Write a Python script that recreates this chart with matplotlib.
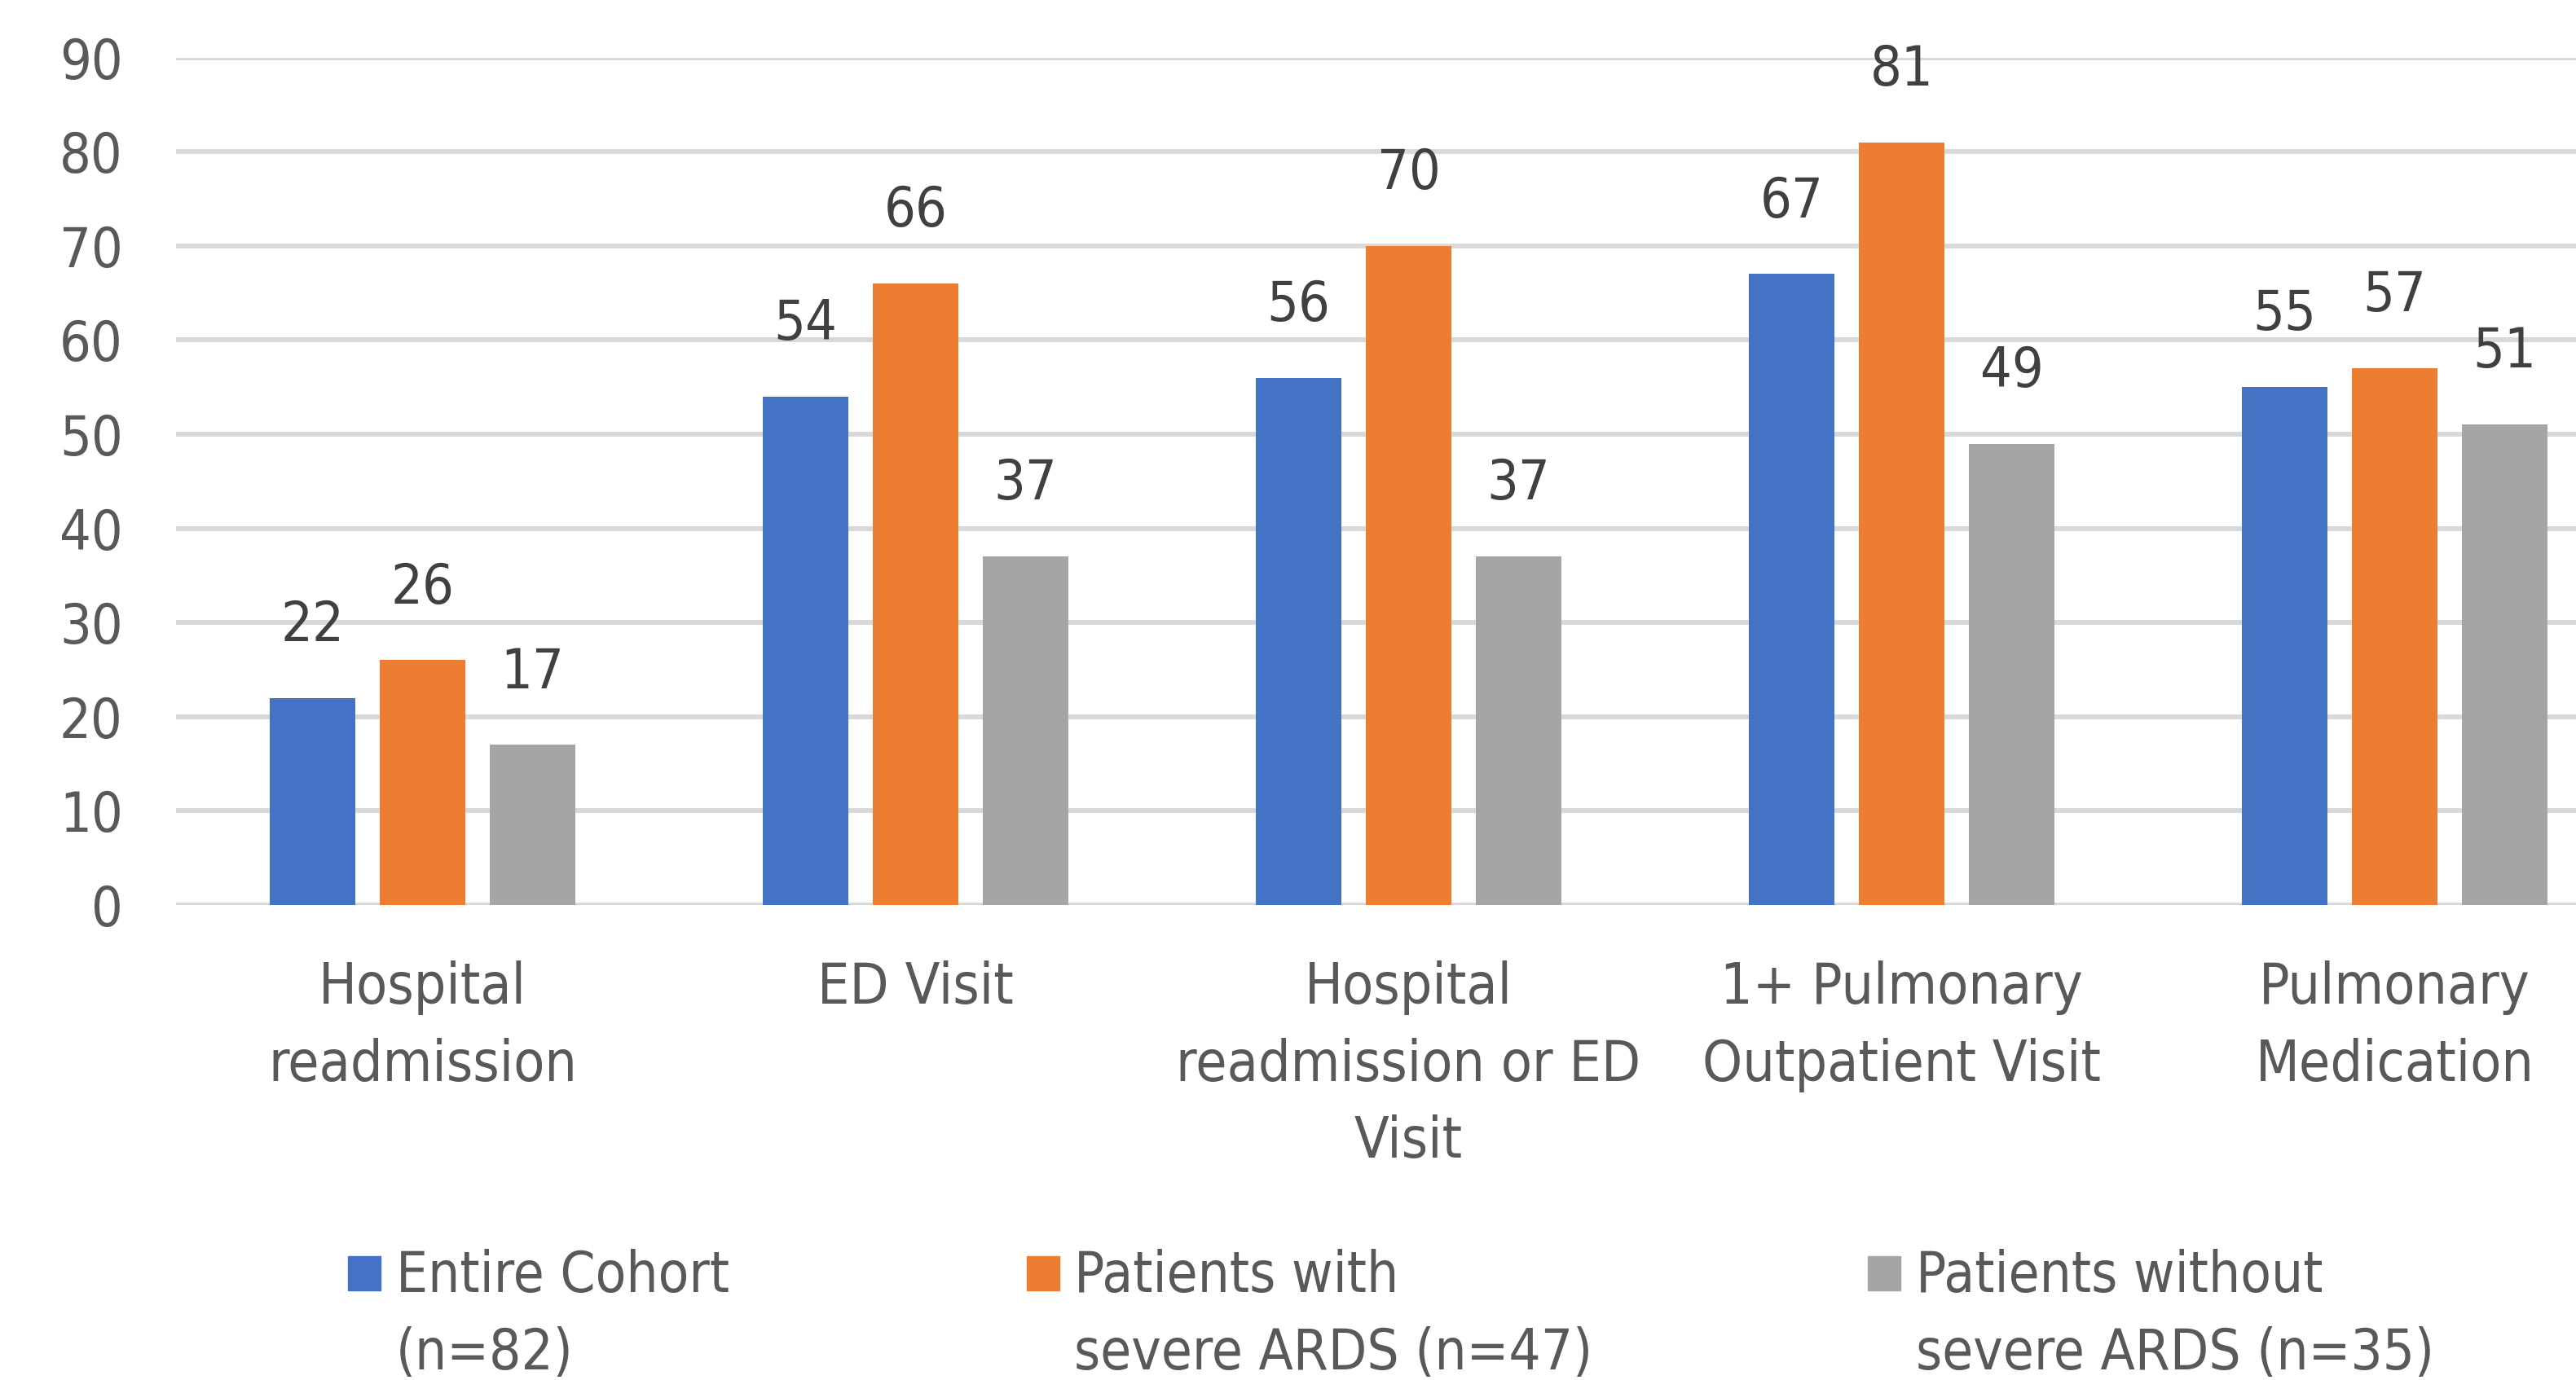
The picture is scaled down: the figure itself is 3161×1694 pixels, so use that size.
import matplotlib
matplotlib.use("Agg")
import matplotlib.pyplot as plt
import numpy as np
from matplotlib.patches import Rectangle

plt.rcParams['font.family'] = ['DejaVu Sans']
plt.rcParams['font.stretch'] = 'condensed'

categories = ["Hospital\nreadmission", "ED Visit", "Hospital\nreadmission or ED\nVisit",
              "1+ Pulmonary\nOutpatient Visit", "Pulmonary\nMedication"]
series_names = ["Entire Cohort\n(n=82)", "Patients with\nsevere ARDS (n=47)",
                "Patients without\nsevere ARDS (n=35)"]
entire_cohort = [22, 54, 56, 67, 55]
severe_ards = [26, 66, 70, 81, 57]
non_severe_ards = [17, 37, 37, 49, 51]
y_ticks = [0, 10, 20, 30, 40, 50, 60, 70, 80, 90]

colors = ["#4472C4", "#ED7D31", "#A5A5A5"]
W, H = 3161, 1694
fig = plt.figure(figsize=(W / 100, H / 100), dpi=100)

# axes deliberately run past the right edge of the canvas
ax_left, ax_right = 216 / W, (216 + 5 * 605) / W
ax_bottom, ax_top = (H - 1111) / H, (H - 70.5) / H
ax = fig.add_axes([ax_left, ax_bottom, ax_right - ax_left, ax_top - ax_bottom])

x = np.arange(len(categories))
offsets = [-0.223, 0.0, 0.223]
bar_w = 0.173
all_series = [entire_cohort, severe_ards, non_severe_ards]
for vals, off, c in zip(all_series, offsets, colors):
    bars = ax.bar(x + off, vals, width=bar_w, color=c, zorder=3)
    for b, v in zip(bars, vals):
        ax.annotate(f"{v}", (b.get_x() + b.get_width() / 2, v),
                    xytext=(0, 64), textcoords="offset points",
                    ha="center", va="center", fontsize=49, color="#404040")

ax.set_xlim(-0.5, len(categories) - 0.5)
ax.set_ylim(0, 90)
ax.set_yticks(y_ticks)
ax.set_yticklabels([str(t) for t in y_ticks])
ax.set_xticks(x)
ax.set_xticklabels(categories, linespacing=1.52)
ax.tick_params(axis="y", length=0, pad=47, labelsize=49, labelcolor="#595959")
ax.tick_params(axis="x", length=0, pad=49, labelsize=50, labelcolor="#595959")
ax.grid(axis="y", color="#D9D9D9", linewidth=4.3, zorder=0)
ax.set_axisbelow(True)
for s in ax.spines.values():
    s.set_visible(False)

# legend drawn by hand so each swatch sits beside the first line of its label
legend_items = [(212, 241), (625, 654), (1137, 1166)]
for (px, tx), name, c in zip(legend_items, series_names, colors):
    sx, tx = px * W / 1568, tx * W / 1568
    fig.patches.append(Rectangle((sx / W, (H - 1584) / H), 40 / W, 42 / H,
                                 transform=fig.transFigure, color=c))
    fig.text(tx / W, (H - 1614) / H, name, ha="left", va="center",
             fontsize=49.5, color="#595959", linespacing=1.54)

fig.savefig("out.png", dpi=100, facecolor="white")
